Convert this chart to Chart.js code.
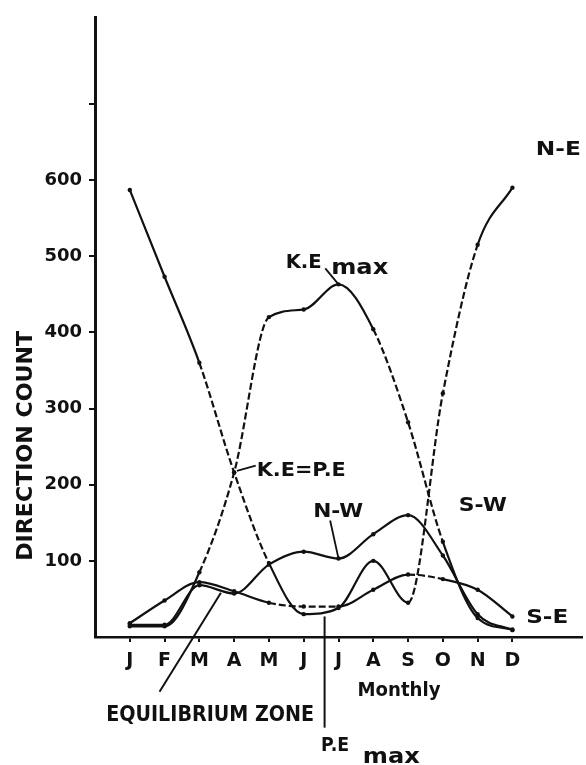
<!DOCTYPE html>
<html>
<head>
<meta charset="utf-8">
<script src="https://cdn.jsdelivr.net/npm/chart.js@4.4.0/dist/chart.umd.min.js"></script>
<style>
  html, body { margin: 0; padding: 0; background: #fff; }
</style>
</head>
<body>
<canvas id="chart" width="586" height="765"></canvas>
<script>
const months = ['J', 'F', 'M', 'A', 'M', 'J', 'J', 'A', 'S', 'O', 'N', 'D'];
const northEast = [587, 473, 360, 216, 97, 30, 38, 100, 45, 320, 515, 590];
const southWest = [14, 14, 85, 216, 420, 430, 463, 404, 282, 125, 25, 10];
const northWest = [16, 16, 68, 57, 95, 112, 103, 135, 160, 107, 30, 9];
const southEast = [18, 48, 72, 60, 45, 40, 40, 62, 82, 76, 62, 27];
const yTickLabels = [100, 200, 300, 400, 500, 600];

// segments (by start index) that are drawn broken in the original
const dashedNE = [2, 3, 8, 9];
const dashedSW = [2, 3, 7, 8];
const dashedSE = [4, 5, 8];

const toPoints = values => values.map((v, i) => ({ x: i, y: v }));

function makeSeries(label, values, dashed) {
    return {
        label: label,
        data: toPoints(values),
        borderColor: '#111',
        borderWidth: 2.2,
        pointRadius: 2.2,
        pointBackgroundColor: '#111',
        pointBorderWidth: 0,
        cubicInterpolationMode: 'monotone',
        segment: {
            borderDash: ctx => dashed.includes(ctx.p0DataIndex) ? [7, 3] : undefined
        }
    };
}

// draw bold text squeezed/stretched to a given width
function fitText(ctx, text, x, y, width, size, align) {
    ctx.save();
    ctx.font = `bold ${size}px "DejaVu Sans"`;
    const w = ctx.measureText(text).width;
    const k = width / w;
    ctx.translate(x, y);
    ctx.scale(k, 1);
    ctx.textAlign = align || 'left';
    ctx.textBaseline = 'alphabetic';
    ctx.fillText(text, 0, 0);
    ctx.restore();
}

const annotations = {
    id: 'annotations',
    afterDatasetsDraw(chart) {
        const { ctx, scales: { x, y }, chartArea } = chart;
        const px = v => x.getPixelForValue(v);
        const py = v => y.getPixelForValue(v);
        ctx.save();
        ctx.fillStyle = '#111';
        ctx.strokeStyle = '#111';
        ctx.lineWidth = 1.8;

        const line = (x1, y1, x2, y2) => {
            ctx.beginPath();
            ctx.moveTo(px(x1), py(y1));
            ctx.lineTo(px(x2), py(y2));
            ctx.stroke();
        };

        fitText(ctx, 'N-E', px(12.32), py(633), 45, 20, 'center');

        fitText(ctx, 'K.E', px(4.48), py(484), 36, 20);
        fitText(ctx, 'max', px(5.79), py(476), 57, 21);
        line(5.62, 484, 6, 463);

        fitText(ctx, 'K.E=P.E', px(3.65), py(212), 89, 20);
        line(3.08, 218, 3.62, 225);

        fitText(ctx, 'N-W', px(5.99), py(157), 50, 19, 'center');
        line(5.76, 153, 6, 103);

        fitText(ctx, 'S-W', px(10.15), py(166), 48, 19, 'center');
        fitText(ctx, 'S-E', px(12.0), py(18), 42, 19, 'center');

        // below the axis
        ctx.lineWidth = 2;
        line(0.855, -72, 2.62, 58);
        fitText(ctx, 'EQUILIBRIUM ZONE', px(2.31), py(-110), 208, 22, 'center');
        fitText(ctx, 'Monthly', px(7.74), py(-78), 83, 19, 'center');

        line(5.6, 27, 5.6, -119);
        fitText(ctx, 'P.E', px(5.5), py(-150), 28, 19);
        fitText(ctx, 'max', px(6.7), py(-165), 57, 21);

        // y axis title
        ctx.save();
        ctx.translate(chartArea.left - 63, py(251));
        ctx.rotate(-Math.PI / 2);
        fitText(ctx, 'DIRECTION COUNT', 0, 0, 230, 22, 'center');
        ctx.restore();

        ctx.restore();
    }
};

const tickFont = { family: '"DejaVu Sans"', weight: 'bold', size: 19 };

new Chart(document.getElementById('chart'), {
    type: 'line',
    data: {
        datasets: [
            makeSeries('N-E', northEast, dashedNE),
            makeSeries('S-W', southWest, dashedSW),
            makeSeries('N-W', northWest, []),
            makeSeries('S-E', southEast, dashedSE)
        ]
    },
    options: {
        responsive: false,
        animation: false,
        layout: { padding: { top: 15, right: -9, left: 0, bottom: 0 } },
        plugins: {
            legend: { display: false },
            tooltip: { enabled: false }
        },
        scales: {
            x: {
                type: 'linear',
                min: -1,
                max: 13,
                afterFit: scale => { scale.height = 128; scale.paddingRight = 0; },
                border: { color: '#111', width: 2.6 },
                grid: {
                    drawOnChartArea: false,
                    tickLength: 5,
                    lineWidth: 2,
                    color: c => (c.tick && months[c.tick.value] !== undefined) ? '#111' : 'rgba(0,0,0,0)'
                },
                ticks: {
                    stepSize: 1,
                    autoSkip: false,
                    maxRotation: 0,
                    padding: 8,
                    color: '#111',
                    font: tickFont,
                    callback: v => months[v] !== undefined ? months[v] : ''
                }
            },
            y: {
                min: 0,
                max: 813,
                afterFit: scale => { scale.width = 95; },
                border: { color: '#111', width: 3 },
                grid: {
                    drawOnChartArea: false,
                    tickLength: 6,
                    lineWidth: 2,
                    color: c => (c.tick && c.tick.value > 0 && c.tick.value <= 700) ? '#111' : 'rgba(0,0,0,0)'
                },
                ticks: {
                    stepSize: 100,
                    padding: 7,
                    color: '#111',
                    font: { family: '"DejaVu Sans"', weight: 'bold', size: 18 },
                    callback: v => yTickLabels.includes(v) ? String(v) : ''
                }
            }
        }
    },
    plugins: [annotations]
});
</script>
</body>
</html>
